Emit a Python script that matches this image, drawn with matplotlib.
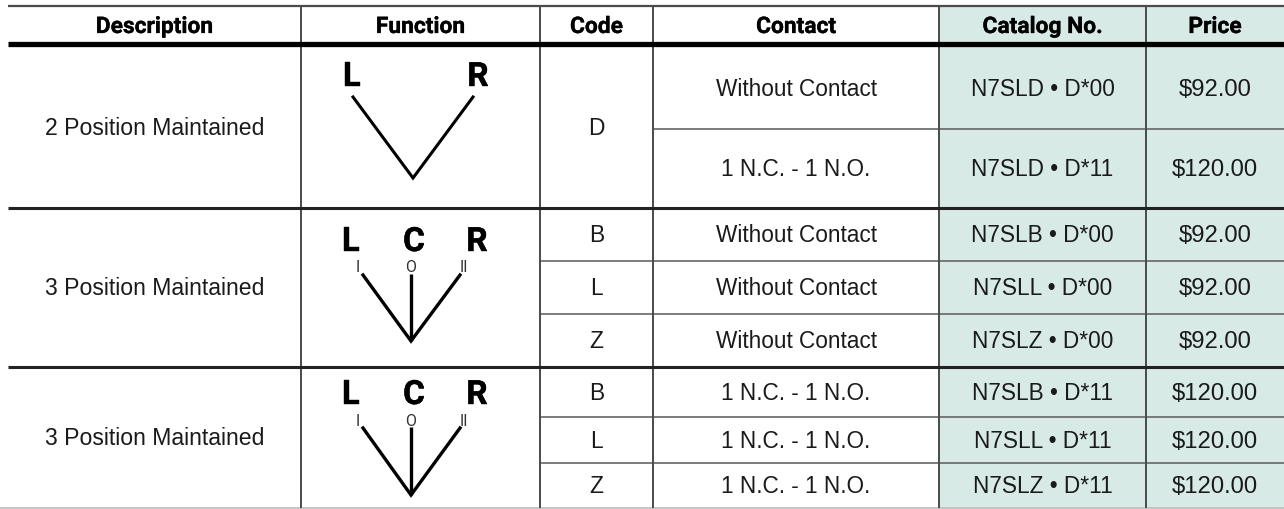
import matplotlib
matplotlib.use('Agg')
import matplotlib.pyplot as plt
import matplotlib.patheffects as pe
from matplotlib.patches import Rectangle

# table text
headers = ['Description', 'Function', 'Code', 'Contact', 'Catalog No.', 'Price']
descriptions = ['2 Position Maintained', '3 Position Maintained', '3 Position Maintained']
codes = ['D', 'B', 'L', 'Z', 'B', 'L', 'Z']
contacts = ['Without Contact', '1 N.C. - 1 N.O.', 'Without Contact', 'Without Contact', 'Without Contact',
            '1 N.C. - 1 N.O.', '1 N.C. - 1 N.O.', '1 N.C. - 1 N.O.']
catalog = ['N7SLD • D*00', 'N7SLD • D*11', 'N7SLB • D*00', 'N7SLL • D*00',
           'N7SLZ • D*00', 'N7SLB • D*11', 'N7SLL • D*11', 'N7SLZ • D*11']
prices = ['$92.00', '$120.00', '$92.00', '$92.00', '$92.00', '$120.00', '$120.00', '$120.00']

# layout in pixels
W, H = 1284, 510
col_x = [8, 301, 540, 653, 939, 1146, 1284]
row_y = [48, 130, 209, 262, 315, 368, 418, 464, 509]
group_y = [48, 209, 368, 509]
code_spans = [(48, 209), (209, 262), (262, 315), (315, 368), (368, 418), (418, 464), (464, 509)]

GREEN = '#d8eae6'
LINE = '#4a4a4a'
BODY = ['Liberation Sans', 'DejaVu Sans']
HEAD = ['Roboto', 'DejaVu Sans']
BODY_SIZE = 16.4
HEAD_SIZE = 16.4

fig = plt.figure(figsize=(W / 100, H / 100), dpi=100)
ax = fig.add_axes([0, 0, 1, 1])
ax.set_xlim(0, W)
ax.set_ylim(H, 0)
ax.axis('off')

ax.add_patch(Rectangle((col_x[4], 7), col_x[6] - col_x[4], 502, fc=GREEN, ec='none', zorder=0))


def cx(i):
    return (col_x[i] + col_x[i + 1]) / 2


def body(x, y, s, size=BODY_SIZE):
    # y is the row centre, text sits on a baseline just below it
    ax.text(x, y + 7, s, ha='center', va='baseline', fontsize=size, family=BODY, color='#1a1a1a')


def big(x, y, s):
    ax.text(x, y, s, ha='center', va='baseline', fontsize=24, family=HEAD, weight='bold', color='black',
            path_effects=[pe.withStroke(linewidth=0.3, foreground='black')])


# grid
for x in col_x[1:-1]:
    ax.plot([x, x], [7, 509], color=LINE, lw=1.4, zorder=2, solid_capstyle='butt')
ax.plot([8, W], [7, 7], color=LINE, lw=1.6, zorder=3, solid_capstyle='butt')
ax.plot([8, W], [45, 45], color='black', lw=3.8, zorder=3, solid_capstyle='butt')
for y in (130, 262, 315, 418, 464):
    x0 = col_x[3] if y == 130 else col_x[2]
    ax.plot([x0, W], [y, y], color='#666666', lw=1.2, zorder=1, solid_capstyle='butt')
for y in (209, 368):
    ax.plot([8, W], [y, y], color='#222222', lw=2.2, zorder=3, solid_capstyle='butt')
ax.plot([0, W], [509, 509], color='#bbbbbb', lw=1.2, zorder=1)

# header
for i, h in enumerate(headers):
    ax.text(cx(i), 34, h, ha='center', va='baseline', fontsize=HEAD_SIZE, family=HEAD, weight='bold', color='black',
            path_effects=[pe.withStroke(linewidth=0.2, foreground='black')])

# description column
for i, d in enumerate(descriptions):
    body(cx(0), (group_y[i] + group_y[i + 1]) / 2, d, 16.6)

for c, (y0, y1) in zip(codes, code_spans):
    body(cx(2), (y0 + y1) / 2, c)

for i in range(8):
    y = (row_y[i] + row_y[i + 1]) / 2
    body(cx(3), y, contacts[i], 16.3)
    body(cx(4), y, catalog[i], 16.3)
    body(cx(5), y, prices[i], 17.2)

# function symbols
big(352, 87, 'L')
big(478, 87, 'R')
ax.plot([353, 413, 473], [98, 179, 98], color='black', lw=2.2, solid_joinstyle='miter')

# letter baseline, label baseline, line top, tip for the two 3 position symbols
for base, label, ltop, tip in ((252, 272, 276, 342), (405, 426, 429, 496)):
    big(351, base, 'L')
    big(414, base, 'C')
    big(477, base, 'R')
    for x, s in ((358, 'I'), (411, 'O'), (464, 'II')):
        ax.text(x, label, s, ha='center', va='baseline', fontsize=11.5, family=HEAD, color='#333333')
    ax.plot([363, 411, 460], [ltop, tip, ltop], color='black', lw=2.4, solid_joinstyle='miter')
    ax.plot([411, 411], [ltop - 1, tip], color='black', lw=2.4, solid_capstyle='butt')

fig.savefig('out.png', dpi=100)
